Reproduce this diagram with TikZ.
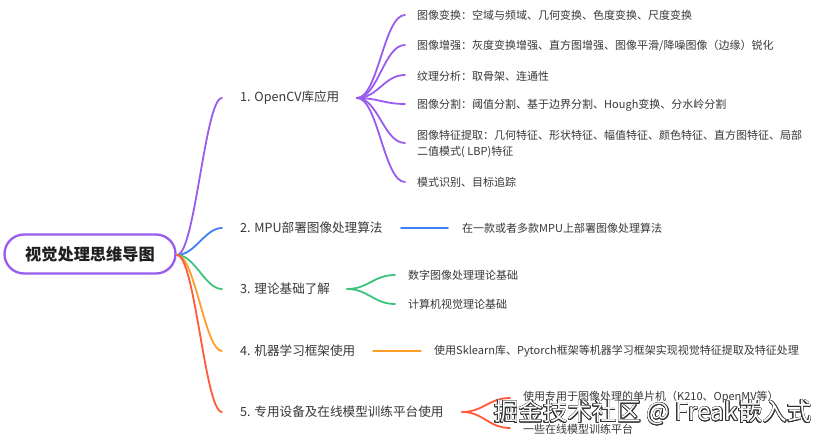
\documentclass[tikz,border=0pt]{standalone}
\usepackage{fontspec}
\setmainfont{Noto Sans CJK SC}
\usepackage[copies]{contour}
\contourlength{0.6pt}
\begin{document}
\begin{tikzpicture}[x=1pt,y=-1pt,
  txt/.style={inner sep=0pt,anchor=west,text=black!78,font=\fontsize{11}{16.5}\selectfont},
  lbl/.style={inner sep=0pt,anchor=west,text=black!78,font=\fontsize{12.6}{15}\selectfont},
  conn/.style={line width=1.8pt,line cap=round}]
\definecolor{mpurple}{HTML}{9A5BEF}
\definecolor{mblue}{HTML}{3F7EF3}
\definecolor{mgreen}{HTML}{3CC47D}
\definecolor{morange}{HTML}{FF9D2A}
\definecolor{mred}{HTML}{FF5A3A}
\useasboundingbox (0,0) rectangle (828,443);
\fill[white] (0,0) rectangle (828,443);

% root
\node[draw=mpurple,line width=2.3pt,rounded corners=19.5pt,minimum width=171pt,minimum height=39pt,inner sep=0pt,
  font=\fontsize{16.2}{18}\selectfont\bfseries,text=black!88] (root) at (90,254) {视觉处理思维导图};
\coordinate (hub) at (177,255);

% level 1
\node[lbl] (b1) at (240,98) {1. OpenCV库应用};
\node[lbl] (b2) at (240,228) {2. MPU部署图像处理算法};
\node[lbl] (b3) at (240,289) {3. 理论基础了解};
\node[lbl] (b4) at (240,351) {4. 机器学习框架使用};
\node[lbl] (b5) at (240,412) {5. 专用设备及在线模型训练平台使用};

\coordinate (e1) at (222,98);
\coordinate (e2) at (222,228);
\coordinate (e3) at (222,289);
\coordinate (e4) at (222,351);
\coordinate (e5) at (222,412);

\draw[conn,mpurple] (hub) .. controls (195,255) and (205,98) .. (e1);
\draw[conn,mblue] (hub) .. controls (195,255) and (205,228) .. (e2);
\draw[conn,mgreen] (hub) .. controls (195,255) and (205,289) .. (e3);
\draw[conn,morange] (hub) .. controls (195,255) and (205,351) .. (e4);
\draw[conn,mred] (hub) .. controls (195,255) and (205,412) .. (e5);

% branch 1 children
\coordinate (h1) at (357,98);
\node[txt] (s11) at (417,15) {图像变换：空域与频域、几何变换、色度变换、尺度变换};
\node[txt] (s12) at (417,46) {图像增强：灰度变换增强、直方图增强、图像平滑/降噪图像（边缘）锐化};
\node[txt] (s13) at (417,76) {纹理分析：取骨架、连通性};
\node[txt] (s14) at (417,105) {图像分割：阈值分割、基于边界分割、Hough变换、分水岭分割};
\node[txt,align=left] (s15) at (417,144) {图像特征提取：几何特征、形状特征、幅值特征、颜色特征、直方图特征、局部\\二值模式( LBP)特征};
\node[txt] (s16) at (417,182) {模式识别、目标追踪};
\foreach \y/\n in {15/a,45/b,75/c,104/d,143/e,182/f}{
  \coordinate (t\n) at (405,\y);
  \draw[conn,mpurple] (h1) .. controls (378,98) and (384,\y) .. (t\n);
}

% branch 2 child
\coordinate (h2a) at (401,228);
\coordinate (h2b) at (448,228);
\draw[conn,draw=mblue] (h2a) -- (h2b);
\node[txt] (s21) at (462,228) {在一款或者多款MPU上部署图像处理算法};

% branch 3 children
\coordinate (h3) at (347,289);
\coordinate (t3a) at (395,275);
\coordinate (t3b) at (395,304);
\draw[conn,mgreen] (h3) .. controls (368,289) and (374,275) .. (t3a);
\draw[conn,mgreen] (h3) .. controls (368,289) and (374,304) .. (t3b);
\node[txt] (s31) at (408,275) {数字图像处理理论基础};
\node[txt] (s32) at (408,304) {计算机视觉理论基础};

% branch 4 child
\coordinate (h4a) at (373,351);
\coordinate (h4b) at (421,351);
\draw[conn,morange] (h4a) -- (h4b);
\node[txt] (s41) at (434,351) {使用Sklearn库、Pytorch框架等机器学习框架实现视觉特征提取及特征处理};

% branch 5 children
\coordinate (h5) at (462,412);
\coordinate (t5a) at (510,398);
\coordinate (t5b) at (510,428);
\draw[conn,mred] (h5) .. controls (483,412) and (489,398) .. (t5a);
\draw[conn,mred] (h5) .. controls (483,412) and (489,428) .. (t5b);
\node[txt] (s51) at (523,397) {使用专用于图像处理的单片机（K210、OpenMV等）};
\node[txt] (s52) at (523,429) {一些在线模型训练平台};

% watermark
\node[inner sep=0pt,anchor=west,text=white,font=\fontsize{24.5}{27}\selectfont] (wm) at (494,413) {\contour{black!80}{掘金技术社区 @ Freak嵌入式}};
\end{tikzpicture}
\end{document}
